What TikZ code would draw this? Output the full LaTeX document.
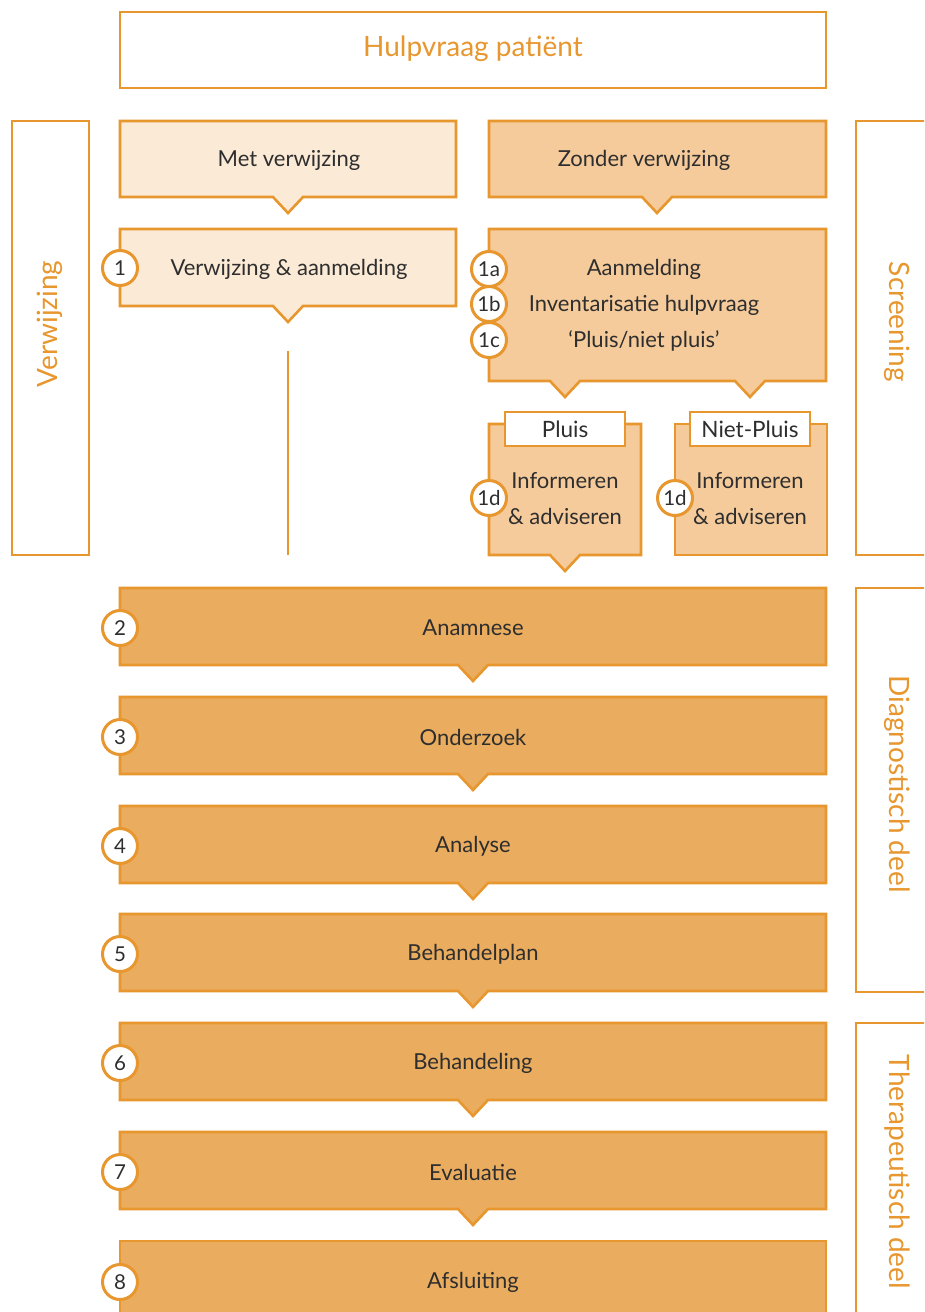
\documentclass[tikz,border=0pt]{standalone}
\usepackage{fontspec}
\setmainfont{Lato}
\definecolor{orng}{HTML}{E8962E}
\definecolor{lightf}{HTML}{FBEAD6}
\definecolor{midf}{HTML}{F5CB9B}
\definecolor{stepf}{HTML}{EAAC5F}
\definecolor{txt}{HTML}{2E2E2E}
\tikzset{
  box/.style={draw=orng, line width=2.6pt, line join=miter},
  lbl/.style={text=txt, font=\fontsize{22}{26}\selectfont, inner sep=0pt},
  side/.style={text=orng, font=\fontsize{28}{32}\selectfont, inner sep=0pt},
  num/.style={circle, draw=orng, fill=white, line width=3pt, minimum size=35pt, inner sep=0pt, text=txt, font=\fontsize{20.5}{22}\selectfont},
  tagbox/.style={draw=orng, fill=white, line width=2.6pt, minimum width=120pt, minimum height=34pt, inner sep=0pt, text=txt, font=\fontsize{22.5}{25}\selectfont},
}
\newcommand\callout[6]{\filldraw[box, fill=#6] (#1,#2) -- (#3,#2) -- (#3,#4) -- ({#5+15},#4) -- (#5,{#4+16}) -- ({#5-15},#4) -- (#1,#4) -- cycle;}
\begin{document}
\begin{tikzpicture}[x=1pt, y=-1pt]
\clip (0,0) rectangle (924,1312);
\fill[white] (0,0) rectangle (924,1312);
% top
\draw[box] (120,12) rectangle (826,88);
\node[side] (top) at (473,49) {Hulpvraag patiënt};
% side boxes
\draw[box] (12,121) rectangle (89,555);
\node[side, rotate=90] (sverw) at (50,324) {Verwijzing};
\draw[box] (856,121) rectangle (940,555);
\node[side, rotate=-90] (sscr) at (897,322) {Screening};
\draw[box] (856,588) rectangle (940,992);
\node[side, rotate=-90] (sdiag) at (897,784) {Diagnostisch deel};
\draw[box] (856,1023) rectangle (940,1330);
\node[side, rotate=-90] (sther) at (897,1172) {Therapeutisch deel};
% left column
\callout{120}{121}{456}{197}{288}{lightf}
\node[lbl] (met) at (289,160) {Met verwijzing};
\callout{120}{229}{456}{306}{288}{lightf}
\node[lbl] (aanm1) at (289,269) {Verwijzing \& aanmelding};
\node[num] (n1) at (120,268) {1};
\coordinate (lineA) at (288,351);
\coordinate (lineB) at (288,555);
\draw[orng, line width=2.6pt] (lineA) -- (lineB);
% right column
\callout{489}{121}{826}{197}{657}{midf}
\node[lbl] (zonder) at (644,160) {Zonder verwijzing};
\filldraw[box, fill=midf] (489,229) -- (826,229) -- (826,381) -- (765,381) -- (750,397) -- (735,381) -- (580,381) -- (565,397) -- (550,381) -- (489,381) -- cycle;
\node[lbl] (aanm) at (644,269) {Aanmelding};
\node[lbl] (inv) at (644,305) {Inventarisatie hulpvraag};
\node[lbl] (pnp) at (644,341) {‘Pluis/niet pluis’};
\node[num] (n1a) at (489,269) {1a};
\node[num] (n1b) at (489,304) {1b};
\node[num] (n1c) at (489,340) {1c};
% pluis
\callout{489}{424}{641}{555}{565}{midf}
\node[tagbox] (pluis) at (565,429) {Pluis};
\node[lbl, align=center] (inf1) at (565,499) {Informeren\\[10pt]\& adviseren};
\node[num] (n1d) at (489,498) {1d};
\filldraw[box, fill=midf] (675,424) rectangle (827,555);
\node[tagbox] (npluis) at (750,429) {Niet-Pluis};
\node[lbl, align=center] (inf2) at (750,499) {Informeren\\[10pt]\& adviseren};
\node[num] (n1e) at (675,498) {1d};
% steps
\foreach \t/\n/\s in {588/2/Anamnese, 697/3/Onderzoek, 806/4/Analyse, 914/5/Behandelplan, 1023/6/Behandeling, 1132/7/Evaluatie}{
  \callout{120}{\t}{826}{\t+77}{473}{stepf}
  \node[lbl] (s\n) at (473,\t+40) {\s};
  \node[num] (c\n) at (120,\t+40) {\n};
}
\filldraw[box, fill=stepf] (120,1330) -- (120,1241) -- (826,1241) -- (826,1330);
\node[lbl] (s8) at (473,1282) {Afsluiting};
\node[num] (c8) at (120,1282) {8};
\end{tikzpicture}
\end{document}
